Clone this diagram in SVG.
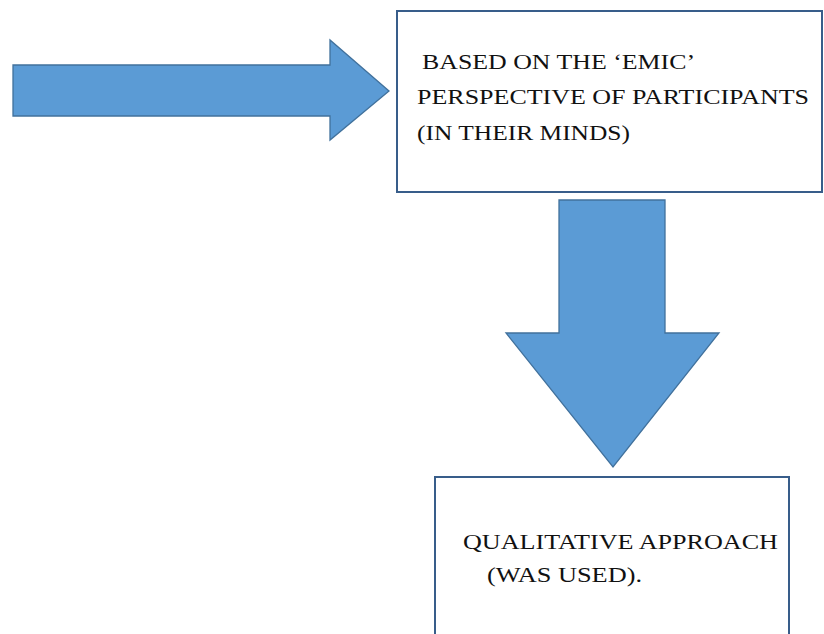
<svg xmlns="http://www.w3.org/2000/svg" width="824" height="634" viewBox="0 0 824 634">
<style>
.arrow{fill:#5B9BD5;stroke:#41719C;stroke-width:1.3;stroke-linejoin:miter}
.box{fill:#fff;stroke:#385D8A;stroke-width:2}
.t{font-family:'Liberation Serif','DejaVu Serif',serif;font-size:22px;fill:#111}
</style>
<rect width="824" height="634" fill="#fff"/>
<g id="connectors">
<polygon class="arrow" points="13,65 330,65 330,40 389,91 330,140 330,116 13,116"/>
<polygon class="arrow" points="559,200 665,200 665,333 719,333 613,467 506,333 559,333"/>
</g>
<g id="node-emic">
<rect class="box" x="397" y="11" width="425" height="181"/>
<text class="t" font-family="Liberation Serif, DejaVu Serif, serif" x="422" y="69" textLength="273" lengthAdjust="spacingAndGlyphs">BASED ON THE ‘EMIC’</text>
<text class="t" font-family="Liberation Serif, DejaVu Serif, serif" x="417" y="104" textLength="392" lengthAdjust="spacingAndGlyphs">PERSPECTIVE OF PARTICIPANTS</text>
<text class="t" font-family="Liberation Serif, DejaVu Serif, serif" x="417" y="140" textLength="213" lengthAdjust="spacingAndGlyphs">(IN THEIR MINDS)</text>
</g>
<g id="node-qualitative">
<rect class="box" x="435" y="477" width="354" height="170"/>
<text class="t" font-family="Liberation Serif, DejaVu Serif, serif" x="463" y="549" textLength="315" lengthAdjust="spacingAndGlyphs">QUALITATIVE APPROACH</text>
<text class="t" font-family="Liberation Serif, DejaVu Serif, serif" x="487" y="582" textLength="155" lengthAdjust="spacingAndGlyphs">(WAS USED).</text>
</g>
</svg>
